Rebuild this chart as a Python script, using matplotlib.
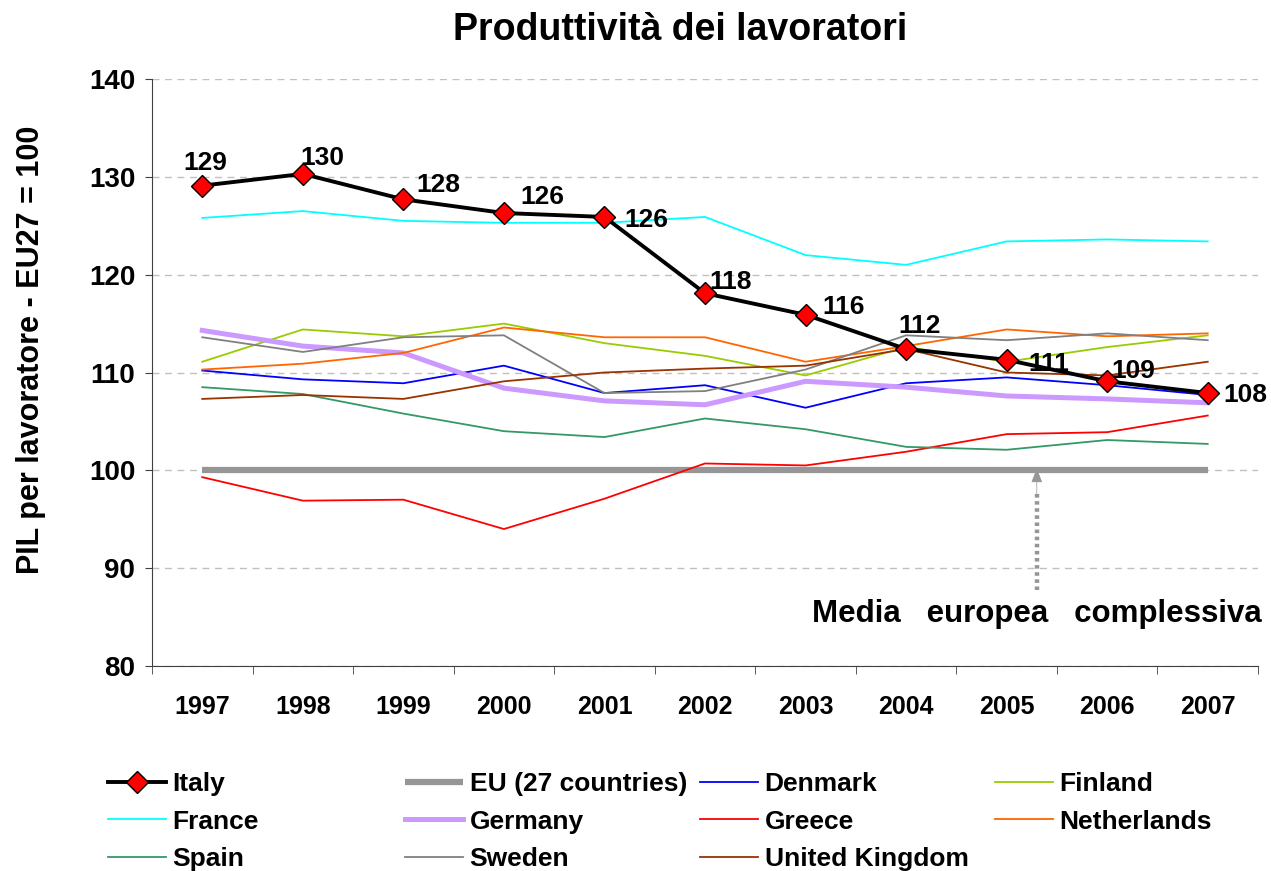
import matplotlib.pyplot as plt
import numpy as np

plt.rcParams['font.family'] = ['Liberation Sans', 'DejaVu Sans']
plt.rcParams['font.weight'] = 'bold'

# Dati
anni = np.arange(1997, 2008)
italy = [129.1, 130.3, 127.7, 126.3, 125.9, 118.1, 115.9, 112.4, 111.3, 109.1, 107.9]
eu27 = [100] * 11
denmark = [110.2, 109.3, 108.9, 110.7, 107.9, 108.7, 106.4, 108.9, 109.5, 108.7, 107.7]
finland = [111.1, 114.4, 113.7, 115.0, 113.0, 111.7, 109.7, 112.6, 111.1, 112.6, 113.8]
france = [125.8, 126.5, 125.5, 125.3, 125.3, 125.9, 122.0, 121.0, 123.4, 123.6, 123.4]
germany = [114.3, 112.7, 112.0, 108.4, 107.1, 106.7, 109.1, 108.5, 107.6, 107.3, 106.9]
greece = [99.3, 96.9, 97.0, 94.0, 97.1, 100.7, 100.5, 101.9, 103.7, 103.9, 105.6]
netherlands = [110.3, 110.9, 112.0, 114.6, 113.6, 113.6, 111.1, 112.7, 114.4, 113.7, 114.0]
spain = [108.5, 107.8, 105.8, 104.0, 103.4, 105.3, 104.2, 102.4, 102.1, 103.1, 102.7]
sweden = [113.6, 112.1, 113.6, 113.8, 107.9, 108.1, 110.3, 113.8, 113.3, 114.0, 113.3]
uk = [107.3, 107.7, 107.3, 109.1, 110.0, 110.4, 110.7, 112.4, 110.0, 109.7, 111.1]

etichette_italy = ['129', '130', '128', '126', '126', '118', '116', '112', '111', '109', '108']
# spostamenti delle etichette (pixel)
offset_etichette = [(3, 23), (20, 16), (35, 14), (38, 16), (42, -3), (26, 11),
                    (38, 8), (13, 23), (42, -4), (26, 10), (38, -2)]

fig = plt.figure(figsize=(12.71, 8.71), dpi=100)
ax = fig.add_axes([152 / 1271, 1 - 666 / 871, (1258 - 152) / 1271, (666 - 79) / 871])

l_eu, = ax.plot(anni, eu27, color='#969696', lw=4.5, solid_capstyle='butt', label='EU (27 countries)')
l_dk, = ax.plot(anni, denmark, color='#0000FF', lw=1.3, label='Denmark')
l_fi, = ax.plot(anni, finland, color='#99CC00', lw=1.3, label='Finland')
l_fr, = ax.plot(anni, france, color='#00FFFF', lw=1.3, label='France')
l_de, = ax.plot(anni, germany, color='#CC99FF', lw=3.6, label='Germany')
l_gr, = ax.plot(anni, greece, color='#FF0000', lw=1.3, label='Greece')
l_nl, = ax.plot(anni, netherlands, color='#FF6600', lw=1.3, label='Netherlands')
l_es, = ax.plot(anni, spain, color='#339966', lw=1.3, label='Spain')
l_se, = ax.plot(anni, sweden, color='#808080', lw=1.3, label='Sweden')
l_uk, = ax.plot(anni, uk, color='#993300', lw=1.3, label='United Kingdom')
l_it, = ax.plot(anni, italy, color='black', lw=2.8, marker='D', markersize=11,
                markerfacecolor='#FF0000', markeredgecolor='black', markeredgewidth=1.0,
                label='Italy', zorder=5)

for x, y, t, (dx, dy) in zip(anni, italy, etichette_italy, offset_etichette):
    ax.annotate(t, xy=(x, y), xytext=(dx, dy), textcoords='offset pixels',
                ha='center', va='center', fontsize=19, fontweight='bold', zorder=6)

# freccia "Media europea complessiva"
freccia_x = 2005.3
ax.plot([freccia_x, freccia_x], [87.8, 97.6], color='#969696', lw=3.2,
        linestyle=(0, (0.8, 0.8)), solid_capstyle='butt')
ax.annotate('', xy=(freccia_x, 100.2), xytext=(freccia_x, 97.2),
            arrowprops=dict(arrowstyle='-|>,head_length=0.9,head_width=0.35',
                            color='#969696', lw=0.5, shrinkA=0, shrinkB=0))
ax.text(freccia_x, 85.3, 'Media   europea   complessiva', ha='center', va='center',
        fontsize=22.5, fontweight='bold', clip_on=False)

ax.set_xlim(1996.5, 2007.5)
ax.set_ylim(80, 140)
ax.set_yticks(np.arange(80, 141, 10))
ax.set_xticks(anni)
ax.set_xticklabels([str(a) for a in anni])
ax.set_xticks(np.arange(1996.5, 2008, 1), minor=True)
ax.tick_params(axis='x', which='major', length=0, pad=21, labelsize=18)
ax.tick_params(axis='x', which='minor', length=6, direction='out', color='#404040')
ax.tick_params(axis='y', length=5, direction='out', pad=7, labelsize=20, color='#404040')
for lab in ax.get_xticklabels() + ax.get_yticklabels():
    lab.set_fontweight('bold')

ax.yaxis.grid(True, color='#C0C0C0', linestyle=(0, (5, 4)), lw=1.0)
ax.set_axisbelow(True)
ax.spines['top'].set_visible(False)
ax.spines['right'].set_visible(False)
ax.spines['left'].set_color('#404040')
ax.spines['bottom'].set_color('#404040')

fig.text(680 / 1271, 1 - 30 / 871, 'Produttività dei lavoratori', ha='center', va='center',
         fontsize=27, fontweight='bold')
fig.text(31 / 1271, 1 - 350 / 871, 'PIL per lavoratore - EU27 = 100', ha='center', va='center',
         rotation=90, fontsize=22, fontweight='bold')

# legenda in 4 colonne
colonne = [[l_it, l_fr, l_es], [l_eu, l_de, l_se], [l_dk, l_gr, l_uk], [l_fi, l_nl]]
x_colonne = [108, 405, 700, 995]
for col, xc in zip(colonne, x_colonne):
    fig.legend(handles=col, loc='upper left', bbox_to_anchor=(xc / 1271, 1 - 772 / 871),
               frameon=False, handlelength=2.2, handletextpad=0.25,
               labelspacing=0.52, borderpad=0, borderaxespad=0,
               prop={'weight': 'bold', 'size': 19})

plt.savefig('out.png', dpi=100)
